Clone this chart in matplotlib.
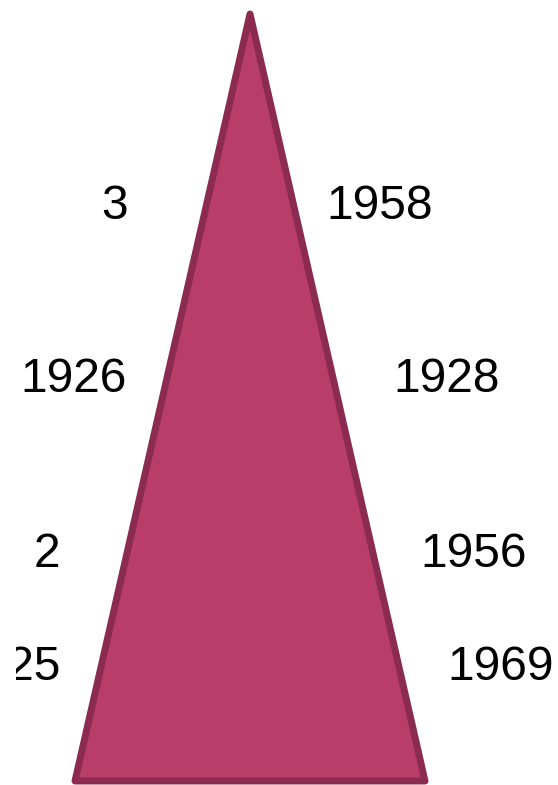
import matplotlib
matplotlib.use("Agg")
from matplotlib import pyplot as plt
from matplotlib.patches import Polygon, Rectangle

# data
stage_value = 100
left_labels = ["3", "1926", "2", "1925"]
right_labels = ["1958", "1928", "1956", "1969"]
label_levels = [73.3, 50.7, 27.9, 13.2]

# layout (x in half-base units, y in value units)
left_x = [-0.697, -0.703, -1.086, -1.080]
right_x = [0.434, 0.817, 0.971, 1.126]
clip_left = -1.337

plt.rcParams['font.family'] = ['Liberation Sans', 'DejaVu Sans']

fig = plt.figure(figsize=(5.58, 7.85), dpi=100)
ax = fig.add_axes([0, 0, 1, 1])
ax.set_xlim(-1.4286, 1.76)
ax.set_ylim(-0.5215, 101.82)
ax.axis('off')

tri = Polygon([(-1, 0), (0, stage_value), (1, 0)], closed=True,
              facecolor='#b93d69', edgecolor='#8a2b4f', linewidth=5,
              joinstyle='round')
ax.add_patch(tri)

# labels are clipped to the chart area, as in the original
clip = Rectangle((clip_left, -1), 4, 110, transform=ax.transData)

for lab, y, x in zip(left_labels, label_levels, left_x):
    t = ax.text(x, y, lab, ha='right', va='baseline', fontsize=34.5, color='black')
    t.set_clip_path(clip)
    t.set_clip_on(True)
for lab, y, x in zip(right_labels, label_levels, right_x):
    ax.text(x, y, lab, ha='left', va='baseline', fontsize=34.5, color='black')

fig.savefig('out.png', dpi=100)
